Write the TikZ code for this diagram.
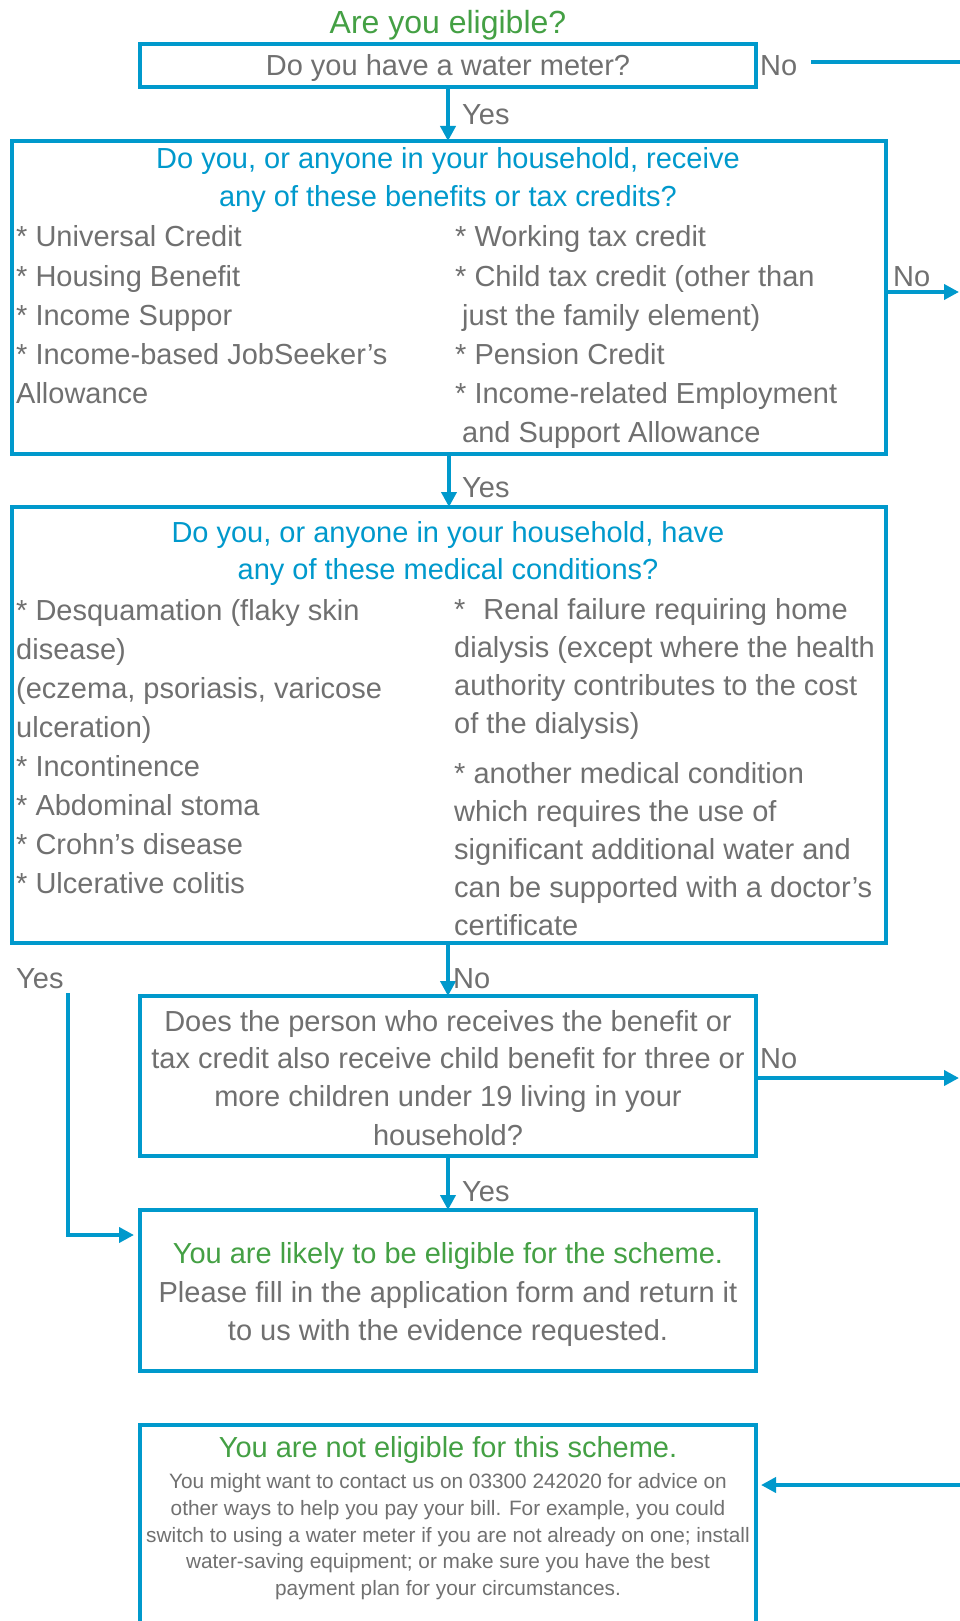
\documentclass[tikz,border=0pt]{standalone}
\usepackage{fontspec}
\setmainfont{Liberation Sans}
\usetikzlibrary{arrows.meta,calc}
\definecolor{cblue}{RGB}{0,153,204}
\definecolor{cgray}{RGB}{112,112,112}
\definecolor{cgreen}{RGB}{68,160,68}
\begin{document}
\begin{tikzpicture}[x=1pt,y=-1pt,
 box/.style={draw=cblue,line width=4pt,inner sep=0pt,outer sep=0pt,rectangle},
 txt/.style={text=cgray,font=\fontsize{29}{36}\selectfont,inner sep=0pt,anchor=base west},
 ctxt/.style={txt,anchor=base},
 btxt/.style={ctxt,text=cblue},
 gtxt/.style={ctxt,text=cgreen},
 stxt/.style={ctxt,font=\fontsize{20.8}{25}\selectfont},
 conn/.style={draw=cblue,line width=4pt},
 arr/.style={conn,-{Triangle[length=15pt,width=15pt]}},
]
\useasboundingbox (0,0) rectangle (960,1621);
\clip (0,0) rectangle (960,1621);
\fill[white] (0,0) rectangle (960,1621);

% title
\node[gtxt,font=\fontsize{32}{38}\selectfont] (title) at (448,34) {Are you eligible?};

% box 1
\node[box,minimum width=616pt,minimum height=43pt] (b1) at (448,65.5) {};
\node[ctxt] (b1t) at (448,76) {Do you have a water meter?};
\node[txt] (no1) at (760,76) {No};
\coordinate (no1s) at (811,62);
\coordinate (no1e) at (962,62);
\draw[conn] (no1s) -- (no1e);

% box 2
\node[box,minimum width=874pt,minimum height=313pt] (b2) at (449,297.5) {};
\draw[arr] (b1.south) -- (b1.south |- b2.north);
\node[txt] (y1) at (462,125) {Yes};
\node[btxt] (b2t1) at (448,169) {Do you, or anyone in your household, receive};
\node[btxt] (b2t2) at (448,207) {any of these benefits or tax credits?};
\node[txt] (b2l1) at (16,247) {* Universal Credit};
\node[txt] (b2l2) at (16,286) {* Housing Benefit};
\node[txt] (b2l3) at (16,325) {* Income Suppor};
\node[txt] (b2l4) at (16,364) {* Income-based JobSeeker’s};
\node[txt] (b2l5) at (16,403) {Allowance};
\node[txt] (b2r1) at (455,247) {* Working tax credit};
\node[txt] (b2r2) at (455,286) {* Child tax credit (other than};
\node[txt] (b2r3) at (462,325) {just the family element)};
\node[txt] (b2r4) at (455,364) {* Pension Credit};
\node[txt] (b2r5) at (455,403) {* Income-related Employment};
\node[txt] (b2r6) at (462,442) {and Support Allowance};
\node[txt] (no2) at (893,286) {No};
\coordinate (n2) at (959,292);
\draw[arr] (n2 -| b2.east) -- (n2);

% box 3
\node[box,minimum width=874pt,minimum height=436pt] (b3) at (449,725) {};
\draw[arr] (b2.south) -- (b2.south |- b3.north);
\node[txt] (y2) at (462,497) {Yes};
\node[btxt] (b3t1) at (448,542) {Do you, or anyone in your household, have};
\node[btxt] (b3t2) at (448,579) {any of these medical conditions?};
\node[txt] (b3l1) at (16,620) {* Desquamation (flaky skin};
\node[txt] (b3l2) at (16,659) {disease)};
\node[txt] (b3l3) at (16,698) {(eczema, psoriasis, varicose};
\node[txt] (b3l4) at (16,737) {ulceration)};
\node[txt] (b3l5) at (16,776) {* Incontinence};
\node[txt] (b3l6) at (16,815) {* Abdominal stoma};
\node[txt] (b3l7) at (16,854) {* Crohn’s disease};
\node[txt] (b3l8) at (16,893) {* Ulcerative colitis};
\node[txt] (b3r1) at (454,619) {*\hspace*{18pt}Renal failure requiring home};
\node[txt] (b3r2) at (454,657) {dialysis (except where the health};
\node[txt] (b3r3) at (454,695) {authority contributes to the cost};
\node[txt] (b3r4) at (454,733) {of the dialysis)};
\node[txt] (b3r5) at (454,783) {* another medical condition};
\node[txt] (b3r6) at (454,821) {which requires the use of};
\node[txt] (b3r7) at (454,859) {significant additional water and};
\node[txt] (b3r8) at (454,897) {can be supported with a doctor’s};
\node[txt] (b3r9) at (454,935) {certificate};

% left Yes path
\node[txt] (y3) at (16,988) {Yes};
\coordinate (ys) at (68,993);
\coordinate (yt) at (134,1235);
\draw[arr] (ys) |- (yt);

% box 4
\node[box,minimum width=616pt,minimum height=160pt] (b4) at (448,1076) {};
\draw[arr] (b3.south -| b4.north) -- (b4.north);
\node[txt] (no3) at (453,988) {No};
\node[ctxt] (b4t1) at (448,1031) {Does the person who receives the benefit or};
\node[ctxt] (b4t2) at (448,1068) {tax credit also receive child benefit for three or};
\node[ctxt] (b4t3) at (448,1106) {more children under 19 living in your};
\node[ctxt] (b4t4) at (448,1145) {household?};
\node[txt] (no4) at (760,1068) {No};
\coordinate (n4) at (959,1078);
\draw[arr] (n4 -| b4.east) -- (n4);

% box 5
\node[box,minimum width=616pt,minimum height=161pt] (b5) at (448,1290.5) {};
\draw[arr] (b4.south) -- (b5.north);
\node[txt] (y4) at (462,1201) {Yes};
\node[gtxt] (b5t1) at (448,1263) {You are likely to be eligible for the scheme.};
\node[ctxt] (b5t2) at (448,1302) {Please fill in the application form and return it};
\node[ctxt] (b5t3) at (448,1340) {to us with the evidence requested.};

% box 6
\node[box,minimum width=616pt,minimum height=235pt] (b6) at (448,1542.5) {};
\node[gtxt] (b6t) at (448,1457) {You are not eligible for this scheme.};
\node[stxt] (b6s1) at (448,1488) {You might want to contact us on 03300 242020 for advice on};
\node[stxt] (b6s2) at (448,1515) {other ways to help you pay your bill. For example, you could};
\node[stxt] (b6s3) at (448,1542) {switch to using a water meter if you are not already on one; install};
\node[stxt] (b6s4) at (448,1568) {water-saving equipment; or make sure you have the best};
\node[stxt] (b6s5) at (448,1595) {payment plan for your circumstances.};
\coordinate (n6) at (962,1485);
\draw[arr] (n6) -- ($(n6 -| b6.east)+(5,0)$);
\end{tikzpicture}
\end{document}
